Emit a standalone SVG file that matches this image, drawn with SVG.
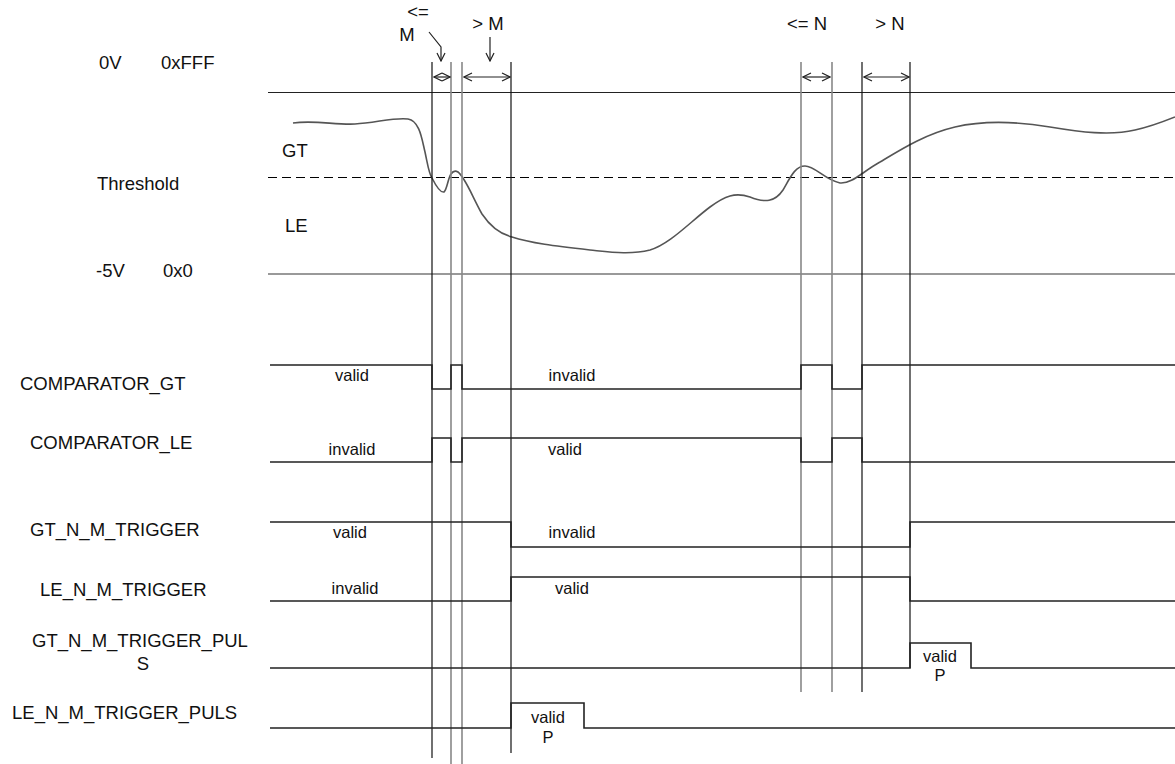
<svg xmlns="http://www.w3.org/2000/svg" width="1175" height="764" viewBox="0 0 1175 764">
<style>
text{font-family:"Liberation Sans",Arial,sans-serif;fill:#111}
.lbl{font-size:18.5px}
.sm{font-size:16.5px;text-anchor:middle}
.sig{fill:none;stroke:#222;stroke-width:1.6}
.vb{stroke:#111;stroke-width:1.2}
.vg{stroke:#888;stroke-width:1.6}
.ar{fill:none;stroke:#222;stroke-width:1.2}
</style>
<defs>
<marker id="ah" viewBox="0 0 10 10" refX="9" refY="5" markerWidth="10" markerHeight="10" markerUnits="userSpaceOnUse" orient="auto-start-reverse">
<path d="M1,1 L9,5 L1,9" fill="none" stroke="#222" stroke-width="1.2"/>
</marker>
</defs>
<rect width="1175" height="764" fill="#fff"/>
<g id="axes">
<line x1="268" y1="92.5" x2="1175" y2="92.5" stroke="#222" stroke-width="1"/>
<line x1="268" y1="177.5" x2="1175" y2="177.5" stroke="#000" stroke-width="1" stroke-dasharray="9 5"/>
<line x1="268" y1="274" x2="1175" y2="274" stroke="#777" stroke-width="1.5"/>
<text class="lbl" x="99" y="69">0V</text>
<text class="lbl" x="161" y="69">0xFFF</text>
<text class="lbl" x="97" y="190">Threshold</text>
<text class="lbl" x="282" y="157">GT</text>
<text class="lbl" x="285" y="232">LE</text>
<text class="lbl" x="96" y="277">-5V</text>
<text class="lbl" x="163" y="277">0x0</text>
</g>
<g id="waveform">
<path d="M293,123 C315,120 335,125 355,124 C375,123 395,117 408,119 C420,121 422,140 425,152 C428,166 429,174 432,178 C436,186 440,193 444,192 C447,190 448,178 451,174 C453,171 455,170 458,172 C465,177 472,196 482,214 C490,226 500,234 512,237 C530,243 555,246 590,250 C610,252 630,255 650,250 C670,244 690,222 710,207 C725,196 735,192 750,197 C765,203 775,202 783,190 C790,178 795,166 805,166 C815,166 825,180 840,183 C852,184 862,172 880,162 C900,150 925,134 955,127 C985,120 1020,122 1050,127 C1080,132 1110,136 1135,130 C1150,127 1165,121 1175,117" fill="none" stroke="#555" stroke-width="1.6"/>
</g>
<g id="markers">
<line class="vb" x1="432" y1="62" x2="432" y2="758"/>
<line class="vg" x1="451" y1="62" x2="451" y2="764"/>
<line class="vg" x1="462" y1="62" x2="462" y2="764"/>
<line class="vb" x1="511" y1="62" x2="511" y2="753"/>
<line class="vg" x1="801" y1="62" x2="801" y2="692" stroke="#666"/>
<line class="vg" x1="832" y1="62" x2="832" y2="692" stroke="#666"/>
<line class="vb" x1="862" y1="62" x2="862" y2="692"/>
<line class="vb" x1="910" y1="62" x2="910" y2="668"/>
</g>
<g id="connectors">
<line class="ar" x1="434" y1="77" x2="450" y2="77" marker-start="url(#ah)" marker-end="url(#ah)"/>
<line class="ar" x1="464" y1="77" x2="510" y2="77" marker-start="url(#ah)" marker-end="url(#ah)"/>
<line class="ar" x1="803" y1="77" x2="830" y2="77" marker-start="url(#ah)" marker-end="url(#ah)"/>
<line class="ar" x1="864" y1="77" x2="909" y2="77" marker-start="url(#ah)" marker-end="url(#ah)"/>
<polyline class="ar" points="429,32 441,47 441,61" marker-end="url(#ah)"/>
<line class="ar" x1="490" y1="37" x2="490" y2="61" marker-end="url(#ah)"/>
</g>
<g id="top-labels">
<text class="lbl" x="418" y="18" text-anchor="middle">&lt;=</text>
<text class="lbl" x="407" y="41" text-anchor="middle">M</text>
<text class="lbl" x="488" y="30" text-anchor="middle">&gt; M</text>
<text class="lbl" x="807" y="30" text-anchor="middle">&lt;= N</text>
<text class="lbl" x="890" y="30" text-anchor="middle">&gt; N</text>
</g>
<g id="comparator-gt">
<text class="lbl" x="20" y="390">COMPARATOR_GT</text>
<polyline class="sig" points="270,365 432,365 432,389 451,389 451,365 462,365 462,389 801,389 801,365 832,365 832,389 862,389 862,365 1175,365"/>
<text class="sm" x="352" y="381">valid</text>
<text class="sm" x="572" y="381">invalid</text>
</g>
<g id="comparator-le">
<text class="lbl" x="30" y="449">COMPARATOR_LE</text>
<polyline class="sig" points="270,462 432,462 432,438 451,438 451,462 462,462 462,438 801,438 801,462 832,462 832,438 862,438 862,462 1175,462"/>
<text class="sm" x="352" y="455">invalid</text>
<text class="sm" x="565" y="455">valid</text>
</g>
<g id="gt-trigger">
<text class="lbl" x="30" y="536">GT_N_M_TRIGGER</text>
<polyline class="sig" points="270,522 511,522 511,547 910,547 910,522 1175,522"/>
<text class="sm" x="350" y="538">valid</text>
<text class="sm" x="572" y="538">invalid</text>
</g>
<g id="le-trigger">
<text class="lbl" x="40" y="596">LE_N_M_TRIGGER</text>
<polyline class="sig" points="270,601 511,601 511,577 910,577 910,601 1175,601"/>
<text class="sm" x="355" y="594">invalid</text>
<text class="sm" x="572" y="594">valid</text>
</g>
<g id="gt-pulse">
<text class="lbl" x="32" y="647">GT_N_M_TRIGGER_PUL</text>
<text class="lbl" x="143" y="670" text-anchor="middle">S</text>
<polyline class="sig" points="270,668 910,668 910,643 971,643 971,668 1175,668"/>
<text class="sm" x="940" y="662">valid</text>
<text class="sm" x="940" y="681">P</text>
</g>
<g id="le-pulse">
<text class="lbl" x="12" y="719">LE_N_M_TRIGGER_PULS</text>
<polyline class="sig" points="270,728 511,728 511,703 584,703 584,728 1175,728"/>
<text class="sm" x="548" y="723">valid</text>
<text class="sm" x="548" y="743">P</text>
</g>
</svg>
